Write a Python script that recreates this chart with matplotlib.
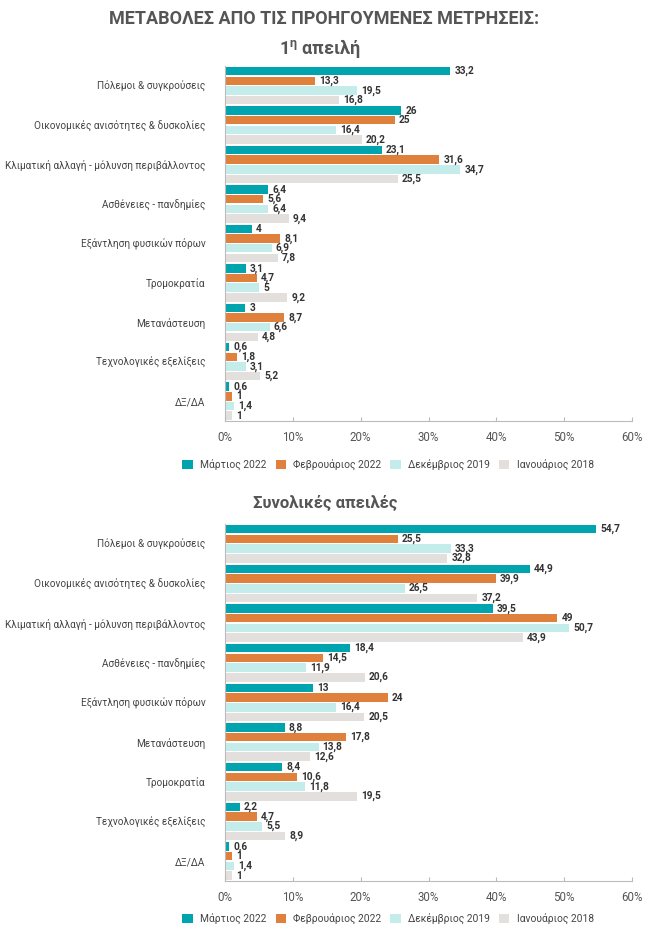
import matplotlib
matplotlib.use("Agg")
import matplotlib.pyplot as plt
from matplotlib.patches import Patch

plt.rcParams['font.family'] = ['Roboto', 'DejaVu Sans']

series_names = ["Μάρτιος 2022", "Φεβρουάριος 2022", "Δεκέμβριος 2019", "Ιανουάριος 2018"]
colors = ["#00A4AE", "#DF813C", "#C4ECEB", "#E3DFDC"]

cats_top = ["Πόλεμοι & συγκρούσεις", "Οικονομικές ανισότητες & δυσκολίες",
            "Κλιματική αλλαγή - μόλυνση περιβάλλοντος", "Ασθένειες - πανδημίες",
            "Εξάντληση φυσικών πόρων", "Τρομοκρατία", "Μετανάστευση",
            "Τεχνολογικές εξελίξεις", "ΔΞ/ΔΑ"]
top_mar22 = [33.2, 26, 23.1, 6.4, 4, 3.1, 3, 0.6, 0.6]
top_feb22 = [13.3, 25, 31.6, 5.6, 8.1, 4.7, 8.7, 1.8, 1]
top_dec19 = [19.5, 16.4, 34.7, 6.4, 6.9, 5, 6.6, 3.1, 1.4]
top_jan18 = [16.8, 20.2, 25.5, 9.4, 7.8, 9.2, 4.8, 5.2, 1]

cats_bot = ["Πόλεμοι & συγκρούσεις", "Οικονομικές ανισότητες & δυσκολίες",
            "Κλιματική αλλαγή - μόλυνση περιβάλλοντος", "Ασθένειες - πανδημίες",
            "Εξάντληση φυσικών πόρων", "Μετανάστευση", "Τρομοκρατία",
            "Τεχνολογικές εξελίξεις", "ΔΞ/ΔΑ"]
bot_mar22 = [54.7, 44.9, 39.5, 18.4, 13, 8.8, 8.4, 2.2, 0.6]
bot_feb22 = [25.5, 39.9, 49, 14.5, 24, 17.8, 10.6, 4.7, 1]
bot_dec19 = [33.3, 26.5, 50.7, 11.9, 16.4, 13.8, 11.8, 5.5, 1.4]
bot_jan18 = [32.8, 37.2, 43.9, 20.6, 20.5, 12.6, 19.5, 8.9, 1]

xticks = [0, 10, 20, 30, 40, 50, 60]
xticklabels = ["0%", "10%", "20%", "30%", "40%", "50%", "60%"]

W, H = 650, 935
fig = plt.figure(figsize=(W / 100, H / 100), dpi=100)


def fmt(v):
    if float(v).is_integer():
        return str(int(v))
    return ("%.1f" % v).replace(".", ",")


def px_axes(left, top, right, bottom):
    return fig.add_axes([left / W, 1 - bottom / H, (right - left) / W, (bottom - top) / H])


def draw(ax, cats, series):
    n = len(cats)
    offsets = [0.13, 0.375, 0.62, 0.865]
    for k, vals in enumerate(series):
        ys = [i + offsets[k] for i in range(n)]
        ax.barh(ys, vals, height=0.215, color=colors[k], edgecolor="none")
        for y, v in zip(ys, vals):
            ax.text(v + 0.6, y, fmt(v), va="center", ha="left", fontsize=7.3,
                    fontweight="bold", color="#333333")
    ax.set_ylim(n, 0)
    ax.set_xlim(0, 60)
    ax.set_yticks([i + 0.5 for i in range(n)])
    ax.set_yticklabels(cats, fontsize=7.2, color="#444444")
    ax.tick_params(axis="y", length=0, pad=14)
    ax.set_xticks(xticks)
    ax.set_xticklabels(xticklabels, fontsize=8.3, color="#555555")
    ax.tick_params(axis="x", direction="in", length=3, color="#BBBBBB", pad=7)
    for s in ["top", "right"]:
        ax.spines[s].set_visible(False)
    ax.spines["left"].set_color("#BBBBBB")
    ax.spines["bottom"].set_color("#BBBBBB")


ax1 = px_axes(225, 66, 632, 421)
draw(ax1, cats_top, [top_mar22, top_feb22, top_dec19, top_jan18])
ax2 = px_axes(225, 524, 632, 881)
draw(ax2, cats_bot, [bot_mar22, bot_feb22, bot_dec19, bot_jan18])

fig.text(324 / W, 1 - 19 / H, "ΜΕΤΑΒΟΛΕΣ ΑΠΟ ΤΙΣ ΠΡΟΗΓΟΥΜΕΝΕΣ ΜΕΤΡΗΣΕΙΣ:", ha="center",
         va="center", fontsize=13, fontweight="bold", color="#555555")
fig.text(320 / W, 1 - 48 / H, r"1$^{\mathregular{η}}$ απειλή", ha="center", va="center",
         fontsize=13, fontweight="bold", color="#555555")
fig.text(325 / W, 1 - 503 / H, "Συνολικές απειλές", ha="center", va="center",
         fontsize=12, fontweight="bold", color="#555555")

handles = [Patch(facecolor=c, edgecolor="none") for c in colors]
for ycen in [465, 919]:
    fig.legend(handles, series_names, loc="center", bbox_to_anchor=(388 / W, 1 - ycen / H),
               ncol=4, frameon=False, fontsize=7.4, handlelength=1.0, handleheight=1.0,
               handletextpad=0.7, columnspacing=0.9, labelcolor="#444444")

fig.savefig("out.png", dpi=100, facecolor="white")
